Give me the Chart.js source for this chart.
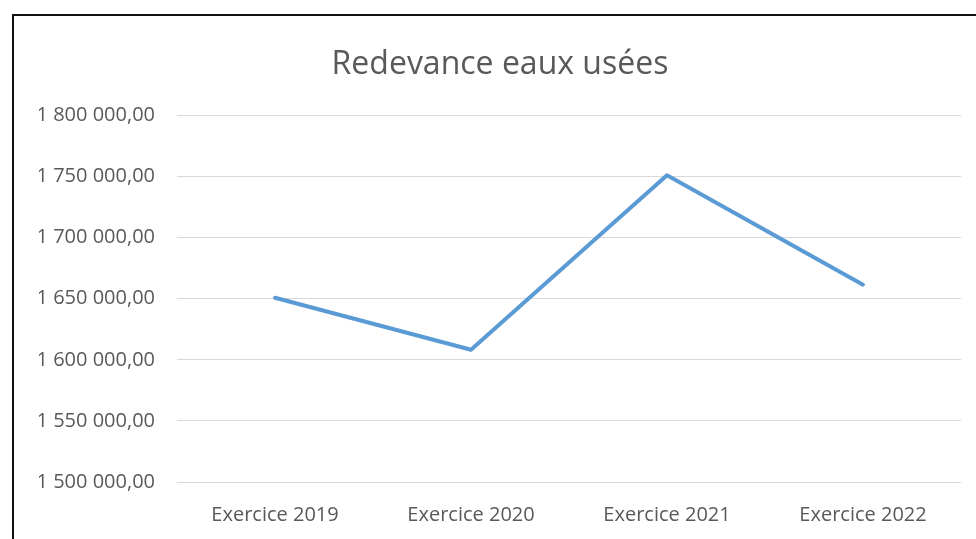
<!DOCTYPE html>
<html lang="fr">
<head>
    <meta charset="UTF-8">
    <title>Redevance eaux usées</title>
    <style>
        body {
            margin: 0;
            width: 976px;
            height: 539px;
            overflow: hidden;
            position: relative;
            background: #fff;
        }
        #frame {
            position: absolute;
            left: 12px;
            top: 14px;
            width: 1000px;
            height: 600px;
            border: 2px solid #111;
            box-shadow: 1px 2px 2px rgba(0,0,0,0.15);
        }
        #chartContainer {
            position: absolute;
            left: 0;
            top: 0;
            width: 976px;
            height: 539px;
        }
    </style>
    <script src="https://cdn.jsdelivr.net/npm/chart.js"></script>
</head>
<body>
    <div id="frame"></div>
    <div id="chartContainer">
        <canvas id="lineChart"></canvas>
    </div>
    <script>
        const labels = ['Exercice 2019', 'Exercice 2020', 'Exercice 2021', 'Exercice 2022'];
        const redevance = [1650800, 1608200, 1751000, 1661500];
        const yMin = 1500000;
        const yMax = 1800000;
        const yStep = 50000;

        // format like "1 800 000,00"
        function formatFr(v) {
            const parts = Math.round(v).toString().replace(/\B(?=(\d{3})+(?!\d))/g, ' ');
            return parts + ',00';
        }

        const ctx = document.getElementById('lineChart').getContext('2d');
        const textColor = '#595959';
        const fontFamily = '"Open Sans", "Noto Sans", sans-serif';

        new Chart(ctx, {
            type: 'line',
            data: {
                labels: labels,
                datasets: [{
                    label: 'Redevance eaux usées',
                    data: redevance,
                    borderColor: '#5b9bd5',
                    borderWidth: 4,
                    borderCapStyle: 'round',
                    borderJoinStyle: 'round',
                    pointRadius: 0,
                    tension: 0,
                    fill: false
                }]
            },
            options: {
                responsive: true,
                maintainAspectRatio: false,
                animation: false,
                layout: {
                    // left padding only moves the title centre; y axis width is fixed below
                    padding: { left: 39, right: 15, top: 0, bottom: 0 }
                },
                plugins: {
                    legend: { display: false },
                    tooltip: { enabled: false },
                    title: {
                        display: true,
                        text: 'Redevance eaux usées',
                        color: textColor,
                        font: { family: fontFamily, size: 32, weight: 'normal' },
                        padding: { top: 46, bottom: 31 }
                    }
                },
                scales: {
                    x: {
                        offset: true,
                        grid: { display: false },
                        border: { display: false },
                        ticks: {
                            color: textColor,
                            font: { family: fontFamily, size: 20 },
                            padding: 13
                        },
                        afterFit: function(scale) { scale.height = 57; }
                    },
                    y: {
                        min: yMin,
                        max: yMax,
                        grid: { color: '#d9d9d9', lineWidth: 1, drawTicks: false },
                        border: { display: false },
                        ticks: {
                            stepSize: yStep,
                            color: textColor,
                            font: { family: fontFamily, size: 20 },
                            padding: 22,
                            callback: function(value) { return formatFr(value); }
                        },
                        afterFit: function(scale) { scale.width = 138; }
                    }
                }
            }
        });
    </script>
</body>
</html>
